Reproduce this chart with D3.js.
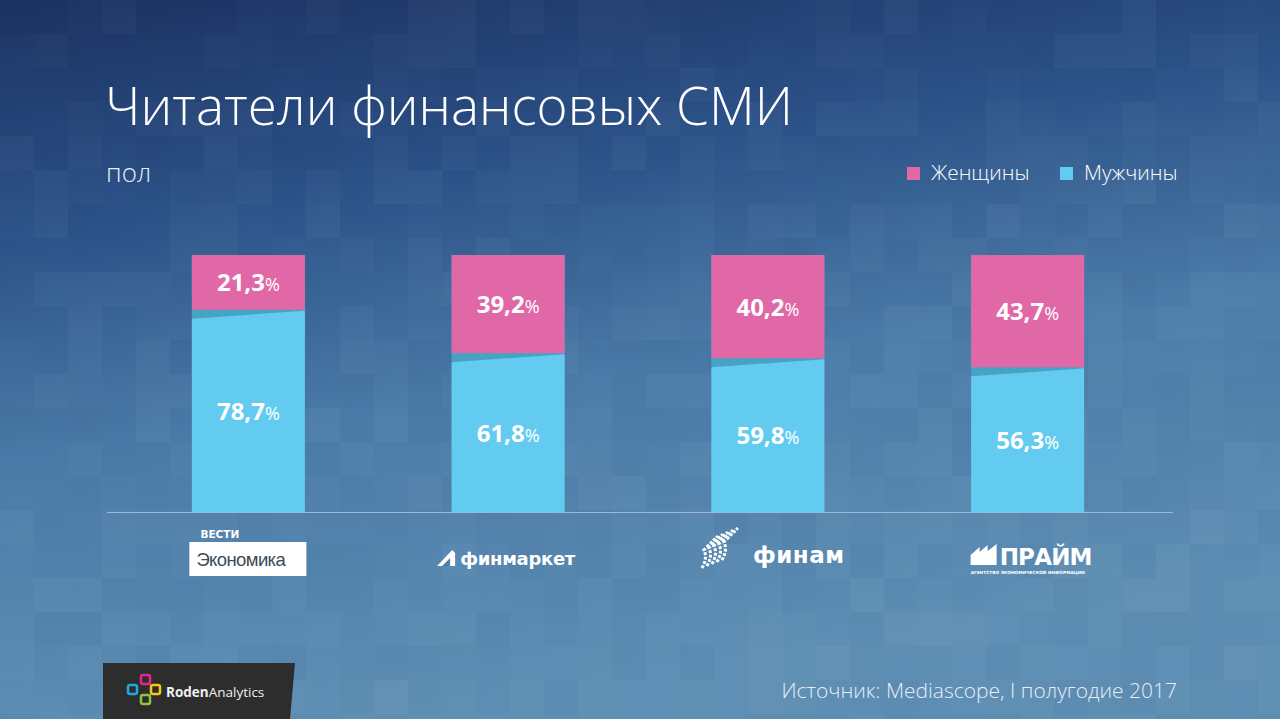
<!DOCTYPE html>
<html lang="ru">
<head>
<meta charset="UTF-8">
<title>Читатели финансовых СМИ</title>
<script src="https://d3js.org/d3.v7.min.js"></script>
<style>
  html, body { margin: 0; padding: 0; background: #2b4c80; }
  svg { display: block; font-family: "Open Sans", "Noto Sans", sans-serif; }
  .title { fill: #fff; font-weight: 300; }
  .lbl { fill: #fff; font-weight: 700; }
  .pct { font-weight: 400; }
</style>
</head>
<body>
<svg id="chart" width="1280" height="719"></svg>
<script>
// data
var outlets = ["Вести Экономика", "Финмаркет", "Финам", "ПРАЙМ"];
var women = [21.3, 39.2, 40.2, 43.7];
var men = [78.7, 61.8, 59.8, 56.3];
var seriesNames = ["Женщины", "Мужчины"];
var seriesColors = ["#e068a6", "#63cbf0"];

var svg = d3.select("#chart");
var W = 1280, H = 719;

// background gradient + soft mosaic tiles
var defs = svg.append("defs");
var bg = defs.append("linearGradient").attr("id", "bg")
    .attr("x1", 0).attr("y1", 0).attr("x2", 0.25).attr("y2", 1);
bg.append("stop").attr("offset", "0%").attr("stop-color", "#1c3262");
bg.append("stop").attr("offset", "30%").attr("stop-color", "#2c5288");
bg.append("stop").attr("offset", "60%").attr("stop-color", "#4b7ba8");
bg.append("stop").attr("offset", "100%").attr("stop-color", "#5f8fb4");
svg.append("rect").attr("width", W).attr("height", H).attr("fill", "url(#bg)");

var tiles = svg.append("g");
var ts = 34;
for (var tx = 0; tx < W; tx += ts) {
  for (var ty = 0; ty < H; ty += ts) {
    var h = Math.abs(Math.sin(tx * 12.9898 + ty * 78.233) * 43758.5453) % 1;
    tiles.append("rect").attr("x", tx).attr("y", ty).attr("width", ts).attr("height", ts)
      .attr("fill", h > 0.5 ? "#ffffff" : "#0a1a40")
      .attr("opacity", (h > 0.5 ? h - 0.5 : 0.5 - h) * 0.06);
  }
}

// title
svg.append("text").attr("class", "title").attr("x", 105).attr("y", 125)
  .attr("font-size", 53).text("Читатели финансовых СМИ");
svg.append("text").attr("x", 106).attr("y", 182).attr("fill", "#e4ecf5")
  .attr("font-size", 26).attr("font-weight", 300).text("пол");

// legend
var legX = [907, 1060];
seriesNames.forEach(function(n, i) {
  svg.append("rect").attr("x", legX[i]).attr("y", 167).attr("width", 13).attr("height", 13)
    .attr("fill", seriesColors[i]);
  svg.append("text").attr("x", legX[i] + 24).attr("y", 180).attr("fill", "#fff")
    .attr("font-size", 20.8).attr("font-weight", 300).text(n);
});

// scales
var x = d3.scaleBand().domain(outlets).range([118.5, 1157.5])
  .paddingInner(0.565).paddingOuter(0.2825);
var y = d3.scaleLinear().domain([0, 100]).range([512, 255]);

var bars = svg.append("g").selectAll("g").data(outlets).enter().append("g");

// full bar in shade colour (shows as wedge under the women segment)
bars.append("rect")
  .attr("x", function(d) { return x(d); })
  .attr("y", y(100))
  .attr("width", x.bandwidth())
  .attr("height", y(0) - y(100))
  .attr("fill", "#47a3c4");

// women segment on top
bars.append("rect")
  .attr("x", function(d) { return x(d); })
  .attr("y", y(100))
  .attr("width", x.bandwidth())
  .attr("height", function(d, i) { return y(men[i]) - y(100); })
  .attr("fill", seriesColors[0]);

// men segment with slanted top edge
bars.append("path")
  .attr("d", function(d, i) {
    var x0 = x(d), x1 = x(d) + x.bandwidth(), yt = y(men[i]);
    return "M" + x0 + "," + (yt + 9) + "L" + x1 + "," + (yt + 1) +
      "L" + x1 + "," + y(0) + "L" + x0 + "," + y(0) + "Z";
  })
  .attr("fill", seriesColors[1]);

function label(sel, vals, ypos) {
  var t = sel.append("text").attr("class", "lbl")
    .attr("text-anchor", "middle")
    .attr("x", function(d) { return x(d) + x.bandwidth() / 2; })
    .attr("y", ypos);
  t.append("tspan").attr("font-size", 24)
    .text(function(d, i) { return vals[i].toFixed(1).replace(".", ","); });
  t.append("tspan").attr("class", "pct").attr("font-size", 18).text("%");
}
label(bars, women, function(d, i) { return (y(100) + y(men[i])) / 2 + 9; });
label(bars, men, function(d, i) { return (y(men[i]) + y(0)) / 2 + 9; });

// baseline
svg.append("line").attr("x1", 107).attr("x2", 1173).attr("y1", 512.5).attr("y2", 512.5)
  .attr("stroke", "#9cbad6").attr("stroke-width", 1);

// outlet logos
var lg = svg.append("g").attr("fill", "#fff").attr("font-family", "'DejaVu Sans', sans-serif");
var c0 = x(outlets[0]) + x.bandwidth() / 2;
lg.append("text").attr("x", c0 - 48).attr("y", 538).attr("font-size", 10.5).attr("font-weight", 700)
  .text("ВЕСТИ");
lg.append("rect").attr("x", c0 - 59).attr("y", 542).attr("width", 117).attr("height", 34).attr("fill", "#fff");
lg.append("text").attr("x", c0 - 52).attr("y", 566).attr("font-size", 18.5).attr("fill", "#3e4a55")
  .attr("font-family", "'Liberation Sans', sans-serif").attr("letter-spacing", -0.6).text("Экономика");

var c1 = x(outlets[1]) + x.bandwidth() / 2;
lg.append("path").attr("d", "M" + (c1 - 71) + ",566 L" + (c1 - 56) + ",550 L" + (c1 - 53) + ",553 L" + (c1 - 53) + ",566 Z");
lg.append("path").attr("d", "M" + (c1 - 66) + ",566 L" + (c1 - 58) + ",558 L" + (c1 - 58) + ",566 Z").attr("fill", "#4f7fa9");
lg.append("text").attr("x", c1 - 48).attr("y", 565).attr("font-size", 18).attr("font-weight", 700)
  .attr("letter-spacing", -0.3).text("финмаркет");

var c2 = x(outlets[2]) + x.bandwidth() / 2;
for (var k = 0; k < 5; k++) {
  lg.append("path")
    .attr("d", "M" + (c2 - 66 + k * 5) + "," + (568 - k * 2) + " q 6,-10 2,-18 q 8,-8 14,-14")
    .attr("fill", "none").attr("stroke", "#fff").attr("stroke-width", 3)
    .attr("stroke-dasharray", "3,1.5");
}
lg.append("text").attr("x", c2 - 15).attr("y", 563).attr("font-size", 23).attr("font-weight", 700)
  .attr("letter-spacing", 0.5).text("финам");

var c3 = x(outlets[3]) + x.bandwidth() / 2;
lg.append("path").attr("d", "M" + (c3 - 57) + ",565 L" + (c3 - 57) + ",555 L" + (c3 - 48) + ",547 L" + (c3 - 48) + ",552 L" +
  (c3 - 40) + ",545 L" + (c3 - 40) + ",551 L" + (c3 - 31) + ",544 L" + (c3 - 31) + ",565 Z");
lg.append("text").attr("x", c3 - 28).attr("y", 565).attr("font-size", 23).attr("font-weight", 700)
  .attr("letter-spacing", -0.8).text("ПРАЙМ");
lg.append("text").attr("x", c3 - 57).attr("y", 574).attr("font-size", 4.3).attr("font-weight", 700)
  .text("АГЕНТСТВО ЭКОНОМИЧЕСКОЙ ИНФОРМАЦИИ");

// source
svg.append("text").attr("x", 1177).attr("y", 698).attr("text-anchor", "end")
  .attr("fill", "#e6eef6").attr("font-size", 21).attr("font-weight", 300)
  .text("Источник: Mediascope, I полугодие 2017");

// brand block bottom-left
svg.append("path").attr("d", "M103,663 L295,663 L290,719 L103,719 Z").attr("fill", "#2d2d2d");
var icon = [[141, 675, "#e3258f"], [128, 685, "#21a8e0"], [151, 685, "#f7c51c"], [141, 695, "#8dc63f"]];
icon.forEach(function(s) {
  svg.append("rect").attr("x", s[0]).attr("y", s[1]).attr("width", 9).attr("height", 9).attr("rx", 2)
    .attr("fill", "none").attr("stroke", s[2]).attr("stroke-width", 2.5);
});
var br = svg.append("text").attr("x", 166).attr("y", 697).attr("fill", "#f0f0f0").attr("font-size", 13.5);
br.append("tspan").attr("font-weight", 700).text("Roden");
br.append("tspan").text("Analytics");
</script>
</body>
</html>
